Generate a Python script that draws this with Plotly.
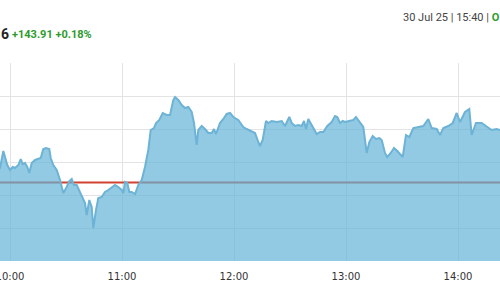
import plotly.graph_objects as go

# Intraday index values (30 Jul 2025)
times = ["09:51:58", "09:54:38", "09:56:25", "09:57:19", "09:58:33", "10:00:00", "10:01:27", "10:02:41",
         "10:04:27", "10:05:44", "10:06:48", "10:08:02", "10:09:16", "10:10:20", "10:11:37", "10:13:23",
         "10:15:10", "10:16:27", "10:17:50", "10:19:17", "10:21:03", "10:21:48", "10:23:12", "10:25:01",
         "10:26:47", "10:28:33", "10:30:22", "10:31:46", "10:33:03", "10:34:17", "10:35:44", "10:37:30",
         "10:40:11", "10:41:05", "10:42:29", "10:43:46", "10:44:37", "10:46:04", "10:47:18", "10:49:07",
         "10:50:53", "10:52:40", "10:54:29", "10:56:15", "10:58:01", "10:59:50", "11:00:42", "11:01:37",
         "11:02:50", "11:03:55", "11:05:12", "11:06:58", "11:08:44", "11:10:33", "11:12:19", "11:14:05",
         "11:15:22", "11:17:08", "11:18:13", "11:19:59", "11:21:48", "11:23:56", "11:25:43", "11:27:29",
         "11:28:23", "11:30:10", "11:31:59", "11:33:45", "11:35:31", "11:37:20", "11:38:34", "11:40:01",
         "11:40:52", "11:42:42", "11:44:28", "11:46:14", "11:48:03", "11:49:17", "11:50:21", "11:52:30",
         "11:54:16", "11:56:05", "11:57:52", "11:59:37", "12:02:18", "12:04:59", "12:06:48", "12:09:29",
         "12:11:15", "12:13:01", "12:13:56", "12:15:22", "12:17:08", "12:18:22", "12:20:11", "12:22:52",
         "12:25:33", "12:27:19", "12:29:37", "12:30:55", "12:32:41", "12:34:26", "12:36:16", "12:37:30",
         "12:38:34", "12:39:48", "12:41:05", "12:42:52", "12:44:18", "12:46:04", "12:47:50", "12:49:59",
         "12:52:20", "12:54:07", "12:55:20", "12:56:47", "12:58:14", "12:59:28", "13:01:46", "13:03:55",
         "13:05:21", "13:07:07", "13:09:16", "13:11:05", "13:12:29", "13:14:18", "13:16:04", "13:17:50",
         "13:19:08", "13:20:53", "13:22:07", "13:23:57", "13:25:43", "13:27:29", "13:30:22", "13:32:08",
         "13:33:55", "13:36:03", "13:38:44", "13:41:25", "13:44:05", "13:45:55", "13:48:35", "13:50:22",
         "13:52:08", "13:54:48", "13:57:10", "13:59:18", "14:01:04", "14:03:45", "14:06:03", "14:07:20",
         "14:09:38", "14:12:42", "14:15:42", "14:18:03", "14:20:44", "14:22:30", "14:25:12"]

values = [81369.7, 81381.8, 81433.3, 81415.2, 81390.9, 81375.8, 81384.8, 81381.8,
          81390.9, 81409.1, 81393.9, 81397.0, 81384.8, 81366.7, 81397.0, 81406.1,
          81409.1, 81412.1, 81439.4, 81442.4, 81439.4, 81412.1, 81390.9, 81375.8,
          81345.5, 81306.1, 81324.2, 81342.4, 81348.5, 81330.3, 81330.3, 81309.1,
          81275.8, 81239.4, 81284.8, 81263.6, 81200.0, 81254.5, 81290.9, 81293.9,
          81309.1, 81315.2, 81324.2, 81330.3, 81324.2, 81315.2, 81306.1, 81339.4,
          81336.4, 81309.1, 81309.1, 81303.0, 81330.3, 81345.5, 81384.8, 81436.4,
          81497.0, 81503.0, 81518.2, 81527.3, 81548.5, 81542.4, 81542.4, 81587.9,
          81597.0, 81587.9, 81572.7, 81563.6, 81566.7, 81551.5, 81518.2, 81451.5,
          81497.0, 81509.1, 81500.0, 81487.9, 81487.9, 81500.0, 81484.8, 81518.2,
          81530.3, 81545.5, 81548.5, 81536.4, 81527.3, 81506.1, 81500.0, 81493.9,
          81487.9, 81460.6, 81448.5, 81466.7, 81524.2, 81518.2, 81524.2, 81521.2,
          81524.2, 81509.1, 81536.4, 81518.2, 81509.1, 81512.1, 81509.1, 81524.2,
          81500.0, 81530.3, 81518.2, 81500.0, 81484.8, 81490.9, 81490.9, 81509.1,
          81521.2, 81539.4, 81536.4, 81518.2, 81524.2, 81521.2, 81524.2, 81527.3,
          81536.4, 81521.2, 81506.1, 81427.3, 81460.6, 81478.8, 81469.7, 81472.7,
          81466.7, 81427.3, 81415.2, 81427.3, 81442.4, 81433.3, 81415.2, 81481.8,
          81475.8, 81503.0, 81506.1, 81509.1, 81530.3, 81503.0, 81500.0, 81481.8,
          81503.0, 81509.1, 81518.2, 81548.5, 81521.2, 81551.5, 81560.6, 81481.8,
          81518.2, 81518.2, 81506.1, 81497.0, 81500.0, 81497.0, 81503.0]

prev_close = 81337.95
price_tail = "6"                 # visible end of the last price
change_text = "+143.91 +0.18%"
stamp_text = "30 Jul 25 | 15:40 | "
status_text = "O"

day = "2025-07-30 "
x = [day + t for t in times]
x_start = day + "09:54:38"
x_end = day + "14:22:30"

fig = go.Figure()

# previous close reference line (red), partly seen through the area fill
fig.add_trace(go.Scatter(
    x=[x[0], x[-1]], y=[prev_close, prev_close], mode="lines",
    line=dict(color="#d0432f", width=2), hoverinfo="skip", showlegend=False))

# price area
fig.add_trace(go.Scatter(
    x=x, y=values, mode="lines", fill="tozeroy",
    fillcolor="rgba(100,178,215,0.70)",
    line=dict(color="#6db3d6", width=2), showlegend=False))

fig.update_layout(
    width=500, height=300,
    margin=dict(l=0, r=0, t=63, b=39, autoexpand=False),
    paper_bgcolor="white", plot_bgcolor="white",
    font=dict(family="DejaVu Sans", size=10, color="#333333"),
    xaxis=dict(
        type="date", range=[x_start, x_end], automargin=False,
        tickformat="%H:%M", dtick=3600000, tick0=day + "10:00:00",
        showgrid=True, gridcolor="#e3e3e3", gridwidth=1,
        zeroline=False, showline=False, ticks="",
        ticklabeloverflow="allow", ticklabelstandoff=8,
        tickfont=dict(family="DejaVu Sans", size=10, color="#333333"),
    ),
    yaxis=dict(
        range=[81100, 81700], dtick=100, automargin=False,
        showgrid=True, gridcolor="#e3e3e3", gridwidth=1,
        zeroline=False, showline=False, showticklabels=False, ticks="",
    ),
    annotations=[
        dict(text="<b>" + price_tail + "</b>", xref="paper", yref="paper",
             x=-1 / 500, y=1 + (63 - 34) / 198, xanchor="left", yanchor="middle",
             showarrow=False, font=dict(family="Roboto", size=14, color="#222222")),
        dict(text="<b>" + change_text + "</b>", xref="paper", yref="paper",
             x=10 / 500, y=1 + (63 - 34) / 198, xanchor="left", yanchor="middle",
             showarrow=False, font=dict(family="Roboto", size=11, color="#2e9b2e")),
        dict(text=stamp_text + "<span style='color:#2e9b2e'><b>" + status_text + "</b></span>",
             xref="paper", yref="paper",
             x=401 / 500, y=1 + (63 - 18) / 198, xanchor="left", yanchor="middle",
             showarrow=False, font=dict(family="Roboto", size=11, color="#444444")),
    ],
)

fig.write_html("out.html")
